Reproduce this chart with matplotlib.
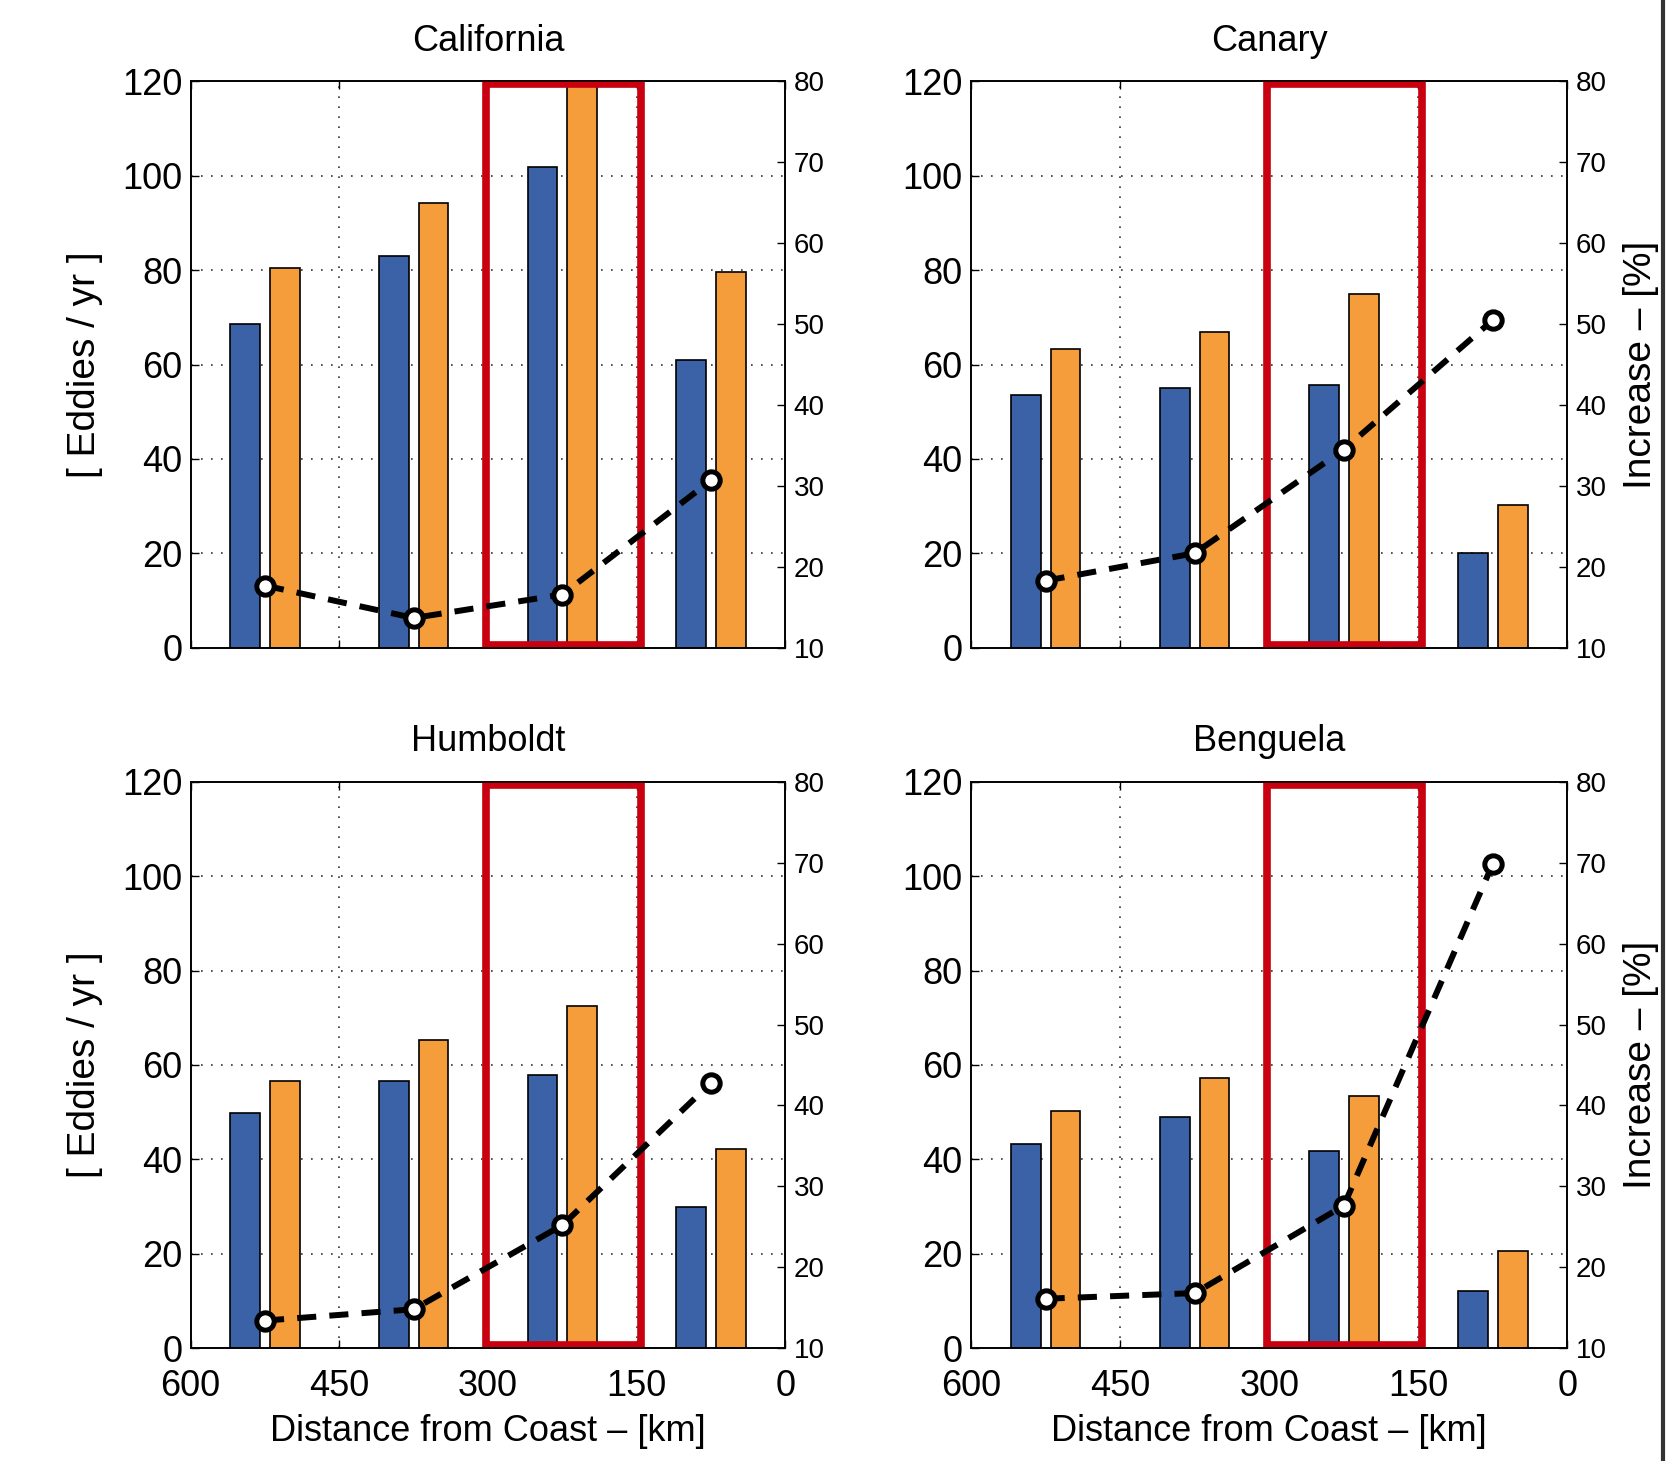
"""Eddies per year vs distance from coast, four upwelling systems (2x2, plotyy-style)."""
import matplotlib

matplotlib.use("Agg")
import matplotlib.pyplot as plt  # noqa: E402
from matplotlib.patches import Rectangle  # noqa: E402
from matplotlib.lines import Line2D  # noqa: E402

plt.rcParams["font.family"] = ["Liberation Sans", "DejaVu Sans"]

CENTERS = [525, 375, 225, 75]  # km from coast

REGIONS = ["California", "Canary", "Humboldt", "Benguela"]
BLUE_VALS = {
    "California": [68.5, 83.0, 101.8, 60.9],
    "Canary": [53.6, 55.1, 55.7, 20.1],
    "Humboldt": [49.9, 56.7, 57.9, 29.8],
    "Benguela": [43.3, 48.9, 41.7, 12.1],
}
ORANGE_VALS = {
    "California": [80.4, 94.2, 122.0, 79.5],
    "Canary": [63.3, 66.8, 74.9, 30.3],
    "Humboldt": [56.6, 65.2, 72.5, 42.3],
    "Benguela": [50.3, 57.3, 53.4, 20.6],
}
INCREASE = {
    "California": [17.7, 13.7, 16.6, 30.7],
    "Canary": [18.3, 21.7, 34.5, 50.5],
    "Humboldt": [13.4, 14.8, 25.2, 42.8],
    "Benguela": [16.1, 16.8, 27.6, 69.9],
}

BLUE = "#3B62A6"
ORANGE = "#F59C3B"
RED = "#C8000F"

# axes rectangles [left, bottom, width, height] in figure fraction
POS = {
    "California": [0.1135, 0.5565, 0.354, 0.388],
    "Canary": [0.578, 0.5565, 0.355, 0.388],
    "Humboldt": [0.1135, 0.0773, 0.354, 0.3875],
    "Benguela": [0.578, 0.0773, 0.355, 0.3875],
}

fig = plt.figure(figsize=(16.8, 14.61), dpi=100)

for i, name in enumerate(REGIONS):
    ax = fig.add_axes(POS[name])
    bottom_row = i >= 2
    left_col = i % 2 == 0

    xb = [c + 20 for c in CENTERS]
    xo = [c - 20 for c in CENTERS]
    ax.bar(xb, BLUE_VALS[name], width=30, color=BLUE, edgecolor="black",
           linewidth=1.2, zorder=2)
    ax.bar(xo, ORANGE_VALS[name], width=30, color=ORANGE, edgecolor="black",
           linewidth=1.2, zorder=2)

    ax.set_xlim(600, 0)
    ax.set_ylim(0, 120)
    ax.set_xticks([600, 450, 300, 150, 0])
    ax.set_yticks(range(0, 121, 20))
    ax.tick_params(axis="both", direction="in", length=6, width=1,
                   top=True, right=False)
    ax.tick_params(axis="y", labelsize=26, pad=6)
    ax.tick_params(axis="x", labelsize=26, pad=15)
    if not bottom_row:
        ax.set_xticklabels([])
    # dotted grid only at inner ticks
    for gx in (450, 300, 150):
        ax.axvline(gx, color="#333333", lw=1.2, ls=(0, (1, 5)), zorder=1)
    for gy in (20, 40, 60, 80, 100):
        ax.axhline(gy, color="#333333", lw=1.2, ls=(0, (1, 5)), zorder=1)
    for sp in ax.spines.values():
        sp.set_linewidth(1.2)

    ax.add_patch(Rectangle((302, 0.6), -156, 118.8, fill=False,
                           edgecolor=RED, linewidth=5.5, zorder=5,
                           clip_on=False))

    ax.set_title(name, fontsize=26, pad=22)
    if left_col:
        ax.set_ylabel("[ Eddies / yr ]", fontsize=28, labelpad=14)
    if bottom_row:
        ax.set_xlabel("Distance from Coast \u2013 [km]", fontsize=26,
                      labelpad=7)

    ax2 = ax.twinx()
    ax2.plot(CENTERS, INCREASE[name], color="black", lw=4.3,
             ls=(0, (3.2, 2.2)), marker="o", ms=12.5, mfc="white",
             mec="black", mew=3.6, zorder=6)
    ax2.set_ylim(10, 80)
    ax2.set_yticks(range(10, 81, 10))
    ax2.tick_params(axis="y", direction="in", length=6, width=1,
                    labelsize=20, pad=6)
    for sp in ax2.spines.values():
        sp.set_linewidth(1.2)
    if not left_col:
        ax2.set_ylabel("Increase \u2013 [%]", fontsize=28, labelpad=12)

# dark frame line at the right edge of the original image
fig.add_artist(Line2D([0.99, 0.99], [0, 1], color="#333333", lw=3,
                      transform=fig.transFigure))

fig.savefig("out.png", dpi=100)
